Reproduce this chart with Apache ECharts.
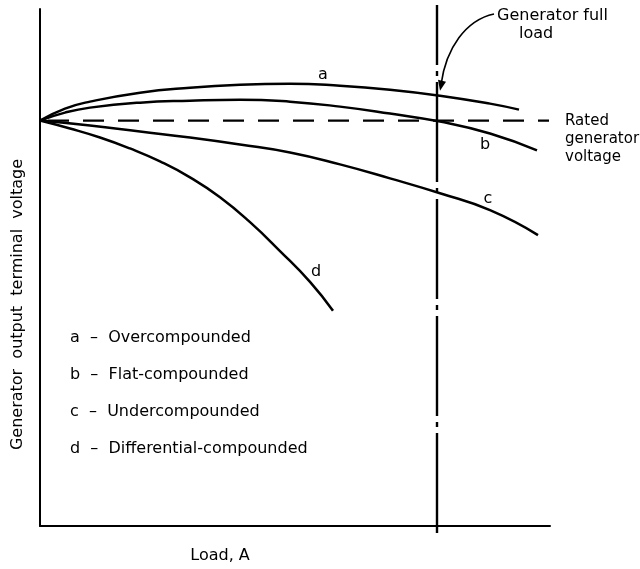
<!DOCTYPE html>
<html><head><meta charset="utf-8">
<script src="https://cdn.jsdelivr.net/npm/echarts@6/dist/echarts.min.js"></script>
<style>html,body{margin:0;padding:0;background:#fff}#c{width:640px;height:569px}</style>
</head><body><div id="c"></div>
<script>
// Load (arbitrary units) vs terminal voltage (arbitrary units)
const curveA = [[0,407],[25,419],[50,426],[100,435],[150,440],[200,443],[250,444],[300,442],[350,438],[400,432],[450,424],[479,418]];
const curveB = [[0,407],[25,415],[50,420],[100,425],[150,427],[200,428],[250,426],[300,421],[350,414],[400,406],[450,394],[497,377]];
const curveC = [[0,407],[50,402],[100,396],[150,390],[200,383],[250,375],[300,363],[350,349],[400,334],[450,317],[498,292]];
const curveD = [[0,407],[30,399],[60,390],[90,379],[120,366],[150,350],[180,330],[210,305],[240,276],[270,245],[293,216]];
const ratedVoltage = 407;
const ratedLineX = [0, 509];
const fullLoad = 397;
const fullLoadLineY = [523, -9];
const curveNames = ['a','b','c','d'];
const legendLines = ['a  –  Overcompounded','b  –  Flat-compounded','c  –  Undercompounded','d  –  Differential-compounded'];
const xTitle = 'Load, A';
const yTitle = 'Generator  output  terminal  voltage';

const FONT = 'DejaVu Sans';
const chart = echarts.init(document.getElementById('c'));
const lineStyle = {color:'#000', width:2.5};
chart.setOption({
  animation:false,
  grid:{left:40, right:90, top:9, bottom:41},
  xAxis:{type:'value', min:0, max:510, axisLine:{lineStyle:{color:'#000',width:2}}, axisTick:{show:false}, axisLabel:{show:false}, splitLine:{show:false},
    name:xTitle, nameLocation:'middle', nameGap:22, nameTextStyle:{fontFamily:FONT,fontSize:16,color:'#000',padding:[0,150,0,0]}},
  yAxis:{type:'value', min:0, max:519, axisLine:{lineStyle:{color:'#000',width:2}}, axisTick:{show:false}, axisLabel:{show:false}, splitLine:{show:false},
    name:yTitle, nameLocation:'middle', nameGap:14, nameTextStyle:{fontFamily:FONT,fontSize:16,color:'#000',padding:[0,74,0,0]}},
  series:[
    {type:'line', data:curveA, smooth:0.5, symbol:'none', lineStyle},
    {type:'line', data:curveB, smooth:0.5, symbol:'none', lineStyle},
    {type:'line', data:curveC, smooth:0.5, symbol:'none', lineStyle},
    {type:'line', data:curveD, smooth:0.5, symbol:'none', lineStyle},
    {type:'line', data:ratedLineX.map(x=>[x,ratedVoltage]), symbol:'none', lineStyle:{color:'#000',width:2.2,type:[21,14],dashOffset:-8}},
    {type:'line', data:fullLoadLineY.map(y=>[fullLoad,y]), symbol:'none', clip:false, lineStyle:{color:'#000',width:2.4,type:[100,6,5,6],dashOffset:40}}
  ]
});

function px(p){ return chart.convertToPixel({gridIndex:0}, p); }
const txt = (x,y,t,align,fs) => ({type:'text', x, y, style:{text:t, fontFamily:FONT, fontSize:fs||16, fill:'#000', textAlign:align||'left', textVerticalAlign:'middle'}});
const labelAt = [[283,453],[445,383],[448,328],[276,255]];
const g = [];
curveNames.forEach((n,i)=>{ const p = px(labelAt[i]); g.push(txt(p[0],p[1],n,'center')); });
legendLines.forEach((t,i)=>{ g.push(txt(70, 338 + i*37, t)); });
g.push(txt(497,16,'Generator full'));
g.push(txt(519,34,'load'));
g.push(txt(565,121,'Rated',null,15));
g.push(txt(565,139,'generator',null,15));
g.push(txt(565,157,'voltage',null,15));
const tip = px([fullLoad+3, 437]);
g.push({type:'bezierCurve', shape:{x1:494,y1:14,cpx1:466,cpy1:20,cpx2:446,cpy2:48,x2:tip[0]+1,y2:tip[1]-6}, style:{stroke:'#000',lineWidth:1.6,fill:null}});
g.push({type:'polygon', shape:{points:[[tip[0],tip[1]],[tip[0]-2,tip[1]-11],[tip[0]+6,tip[1]-9]]}, style:{fill:'#000'}});
chart.setOption({graphic:g});
</script></body></html>
